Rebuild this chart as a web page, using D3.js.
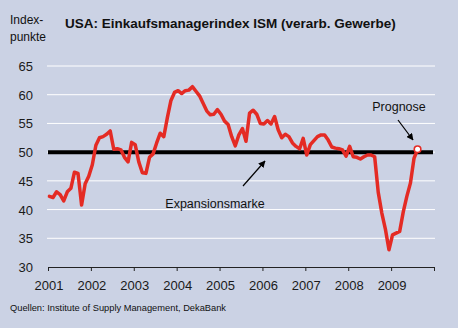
<!DOCTYPE html>
<html><head><meta charset="utf-8">
<script src="https://cdn.jsdelivr.net/npm/d3@7"></script>
<style>
html,body{margin:0;padding:0;background:#cbd2e4;}
svg{display:block;font-family:"Liberation Sans",Arial,sans-serif;}
</style></head>
<body>
<svg id="chart" width="458" height="328"></svg>
<script>
// ISM monthly values, Jan 2001 .. Aug 2009 (last = forecast)
const startYear = 2001;
const ismValues = [
  42.3, 42.1, 43.1, 42.6, 41.5, 43.1, 43.7, 46.5, 46.3, 40.8, 44.5, 45.8,
  47.8, 51.2, 52.5, 52.7, 53.1, 53.7, 50.5, 50.6, 50.4, 49.1, 48.3, 51.7,
  51.3, 48.3, 46.4, 46.3, 49.1, 49.7, 51.6, 53.3, 52.7, 56.0, 59.0, 60.4,
  60.7, 60.2, 60.7, 60.8, 61.4, 60.6, 59.8, 58.5, 57.2, 56.5, 56.6, 57.4,
  56.6, 55.4, 54.8, 52.7, 51.1, 53.0, 54.1, 51.9, 56.8, 57.3, 56.6, 55.0,
  54.9, 55.5, 54.9, 56.2, 53.9, 52.5, 53.1, 52.7, 51.6, 51.0, 50.6, 52.4,
  49.5, 51.3, 52.0, 52.7, 53.0, 53.0, 52.1, 50.9, 50.7, 50.6, 50.4, 49.3,
  51.0, 49.2, 49.1, 48.8, 49.2, 49.5, 49.5, 49.2, 43.0, 39.4, 36.6, 33.0,
  35.6, 35.9, 36.2, 39.6, 42.3, 44.6, 48.9, 50.5
];
const yearTicks = [2001, 2002, 2003, 2004, 2005, 2006, 2007, 2008, 2009, 2010];
const yearLabels = ["2001", "2002", "2003", "2004", "2005", "2006", "2007", "2008", "2009"];
const yTicks = [30, 35, 40, 45, 50, 55, 60, 65];
const expansionMark = [50];
const titleText = "USA: Einkaufsmanagerindex ISM (verarb. Gewerbe)";
const yUnit = ["Index-", "punkte"];
const sourceText = "Quellen: Institute of Supply Management, DekaBank";
const annoExpansion = "Expansionsmarke";
const annoForecast = "Prognose";

const svg = d3.select("#chart");
const W = 458, H = 328;
svg.append("rect").attr("width", W).attr("height", H).attr("fill", "#cbd2e4");

const pLeft = 48, pRight = 434, pTop = 66, pBottom = 267;
const x = d3.scaleLinear().domain([2001, 2010]).range([pLeft, pRight]);
const y = d3.scaleLinear().domain([30, 65]).range([pBottom, pTop]);

const data = ismValues.map((v, i) => ({t: startYear + (i + 0.4) / 12, v}));

// grid lines
svg.append("g").selectAll("line").data(yTicks.filter(d => d > 30)).join("line")
  .attr("x1", pLeft - 1).attr("x2", pRight + 1)
  .attr("y1", d => y(d)).attr("y2", d => y(d))
  .attr("stroke", "#ffffff").attr("stroke-width", 1);

// y labels
svg.append("g").selectAll("text").data(yTicks).join("text")
  .attr("x", 33).attr("y", d => y(d) + 5)
  .attr("text-anchor", "end").attr("font-size", 13).attr("fill", "#1a1a1a")
  .text(d => d);

// x axis
const xAxis = d3.axisBottom(x).tickValues(yearTicks).tickSize(4).tickFormat("");
const gx = svg.append("g").attr("transform", `translate(0,${pBottom})`).call(xAxis);
gx.select(".domain").attr("stroke", "#222").attr("stroke-width", 1);
gx.selectAll(".tick line").attr("stroke", "#222");

svg.append("g").selectAll("text").data(yearLabels).join("text")
  .attr("x", d => x(+d) + 1).attr("y", 290)
  .attr("text-anchor", "middle").attr("font-size", 13).attr("fill", "#1a1a1a")
  .text(d => d);

// expansion line at 50
svg.append("g").selectAll("line").data(expansionMark).join("line")
  .attr("x1", pLeft).attr("x2", pRight - 1)
  .attr("y1", d => y(d)).attr("y2", d => y(d))
  .attr("stroke", "#000").attr("stroke-width", 4);

// ISM line
const line = d3.line().x(d => x(d.t)).y(d => y(d.v)).curve(d3.curveLinear);
svg.append("path").datum(data).attr("d", line)
  .attr("fill", "none").attr("stroke", "#e42b24").attr("stroke-width", 3.5)
  .attr("stroke-linejoin", "round").attr("stroke-linecap", "round");

// forecast point
const last = data[data.length - 1];
svg.append("circle").attr("cx", x(last.t)).attr("cy", y(last.v)).attr("r", 3.3)
  .attr("fill", "#fff").attr("stroke", "#e42b24").attr("stroke-width", 1.6);

// arrows
const defs = svg.append("defs");
defs.append("marker").attr("id", "ah").attr("viewBox", "0 0 10 10")
  .attr("refX", 9).attr("refY", 5).attr("markerWidth", 7).attr("markerHeight", 7)
  .attr("orient", "auto").attr("markerUnits", "userSpaceOnUse")
  .append("path").attr("d", "M0,0 L10,5 L0,10 z").attr("fill", "#000");

svg.append("line").attr("x1", 243).attr("y1", 186).attr("x2", 265).attr("y2", 161)
  .attr("stroke", "#000").attr("stroke-width", 1.2).attr("marker-end", "url(#ah)");
svg.append("line").attr("x1", 398).attr("y1", 120).attr("x2", 413).attr("y2", 140)
  .attr("stroke", "#000").attr("stroke-width", 1.2).attr("marker-end", "url(#ah)");

svg.append("text").attr("x", 215).attr("y", 208).attr("text-anchor", "middle")
  .attr("font-size", 12.5).attr("fill", "#111").text(annoExpansion);
svg.append("text").attr("x", 399).attr("y", 111).attr("text-anchor", "middle")
  .attr("font-size", 12.5).attr("fill", "#111").text(annoForecast);

// titles
svg.append("text").attr("x", 65).attr("y", 28).attr("font-size", 13.5)
  .attr("font-weight", "bold").attr("fill", "#111").text(titleText);
svg.append("g").selectAll("text").data(yUnit).join("text")
  .attr("x", 10).attr("y", (d, i) => 24 + i * 17).attr("font-size", 12)
  .attr("fill", "#111").text(d => d);

svg.append("text").attr("x", 10).attr("y", 311).attr("font-size", 9.3)
  .attr("fill", "#111").text(sourceText);
</script>
</body></html>
